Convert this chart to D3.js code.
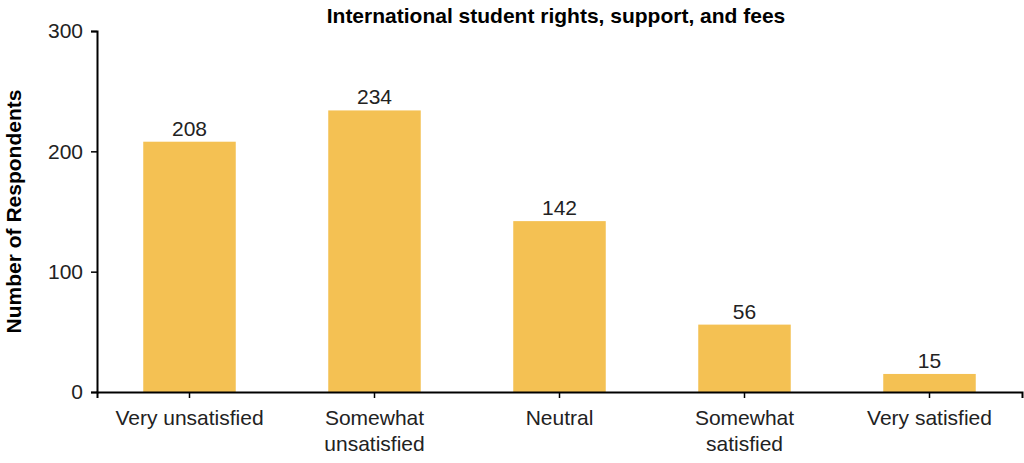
<!DOCTYPE html>
<html>
<head>
<meta charset="utf-8">
<script src="https://cdn.jsdelivr.net/npm/d3@7"></script>
<style>
  body { margin: 0; background: #fff; }
  text { font-family: "Liberation Sans", Arial, sans-serif; }
</style>
</head>
<body>
<div id="chart"></div>
<script>
const categories = ['Very unsatisfied', 'Somewhat\nunsatisfied', 'Neutral', 'Somewhat\nsatisfied', 'Very satisfied'];
const counts = [208, 234, 142, 56, 15];
const yTicks = [0, 100, 200, 300];

let margin = {top: 31, right: 2, bottom: 71, left: 97};
let width = 1024 - margin.left - margin.right;
let height = 463 - margin.top - margin.bottom;

let svg = d3.select('#chart')
            .append('svg')
                .attr('width', 1024)
                .attr('height', 463)
            .append('g')
                .attr('transform', `translate(${margin.left},${margin.top})`);

let xScale = d3.scaleBand()
               .domain(categories)
               .range([0, width])
               .paddingInner(0.5)
               .paddingOuter(0.25);

let yScale = d3.scaleLinear()
               .domain([0, 300])
               .range([height, 0]);

svg.selectAll('rect')
    .data(counts)
    .enter()
    .append('rect')
        .attr('x', (d, i) => xScale(categories[i]))
        .attr('y', (d) => yScale(d))
        .attr('width', xScale.bandwidth())
        .attr('height', (d) => height - yScale(d))
        .attr('fill', '#f4c153');

svg.selectAll('.val')
    .data(counts)
    .enter()
    .append('text')
        .attr('class', 'val')
        .attr('x', (d, i) => xScale(categories[i]) + xScale.bandwidth() / 2)
        .attr('y', (d) => yScale(d) - 6)
        .attr('text-anchor', 'middle')
        .attr('font-size', '21px')
        .attr('fill', '#222')
        .text((d) => d);

// Eixo X
let xAxis = svg.append('g')
    .attr('transform', `translate(0,${height})`)
    .call(d3.axisBottom(xScale).tickSize(6).tickFormat(''));
xAxis.select('.domain').attr('stroke-width', 2);
xAxis.selectAll('.tick line').attr('stroke-width', 1.5);
xAxis.selectAll('.tick').each(function(d) {
    let t = d3.select(this).append('text')
        .attr('fill', '#222')
        .attr('font-size', '21px')
        .attr('text-anchor', 'middle');
    d.split('\n').forEach((line, k) => {
        t.append('tspan').attr('x', 0).attr('y', 33 + k * 26).text(line);
    });
});

// Eixo Y
let yAxis = svg.append('g')
    .call(d3.axisLeft(yScale).tickValues(yTicks).tickSize(6).tickPadding(8));
yAxis.select('.domain').attr('stroke-width', 2);
yAxis.selectAll('.tick line').attr('stroke-width', 1.5);
yAxis.selectAll('.tick text').attr('font-size', '21px').attr('fill', '#222');

svg.append('text')
    .attr('transform', 'rotate(-90)')
    .attr('x', -height / 2)
    .attr('y', -76)
    .attr('text-anchor', 'middle')
    .attr('font-size', '21px')
    .attr('font-weight', 'bold')
    .text('Number of Respondents');

svg.append('text')
    .attr('x', 459)
    .attr('y', -8)
    .attr('text-anchor', 'middle')
    .attr('font-size', '21px')
    .attr('font-weight', 'bold')
    .text('International student rights, support, and fees');
</script>
</body>
</html>
